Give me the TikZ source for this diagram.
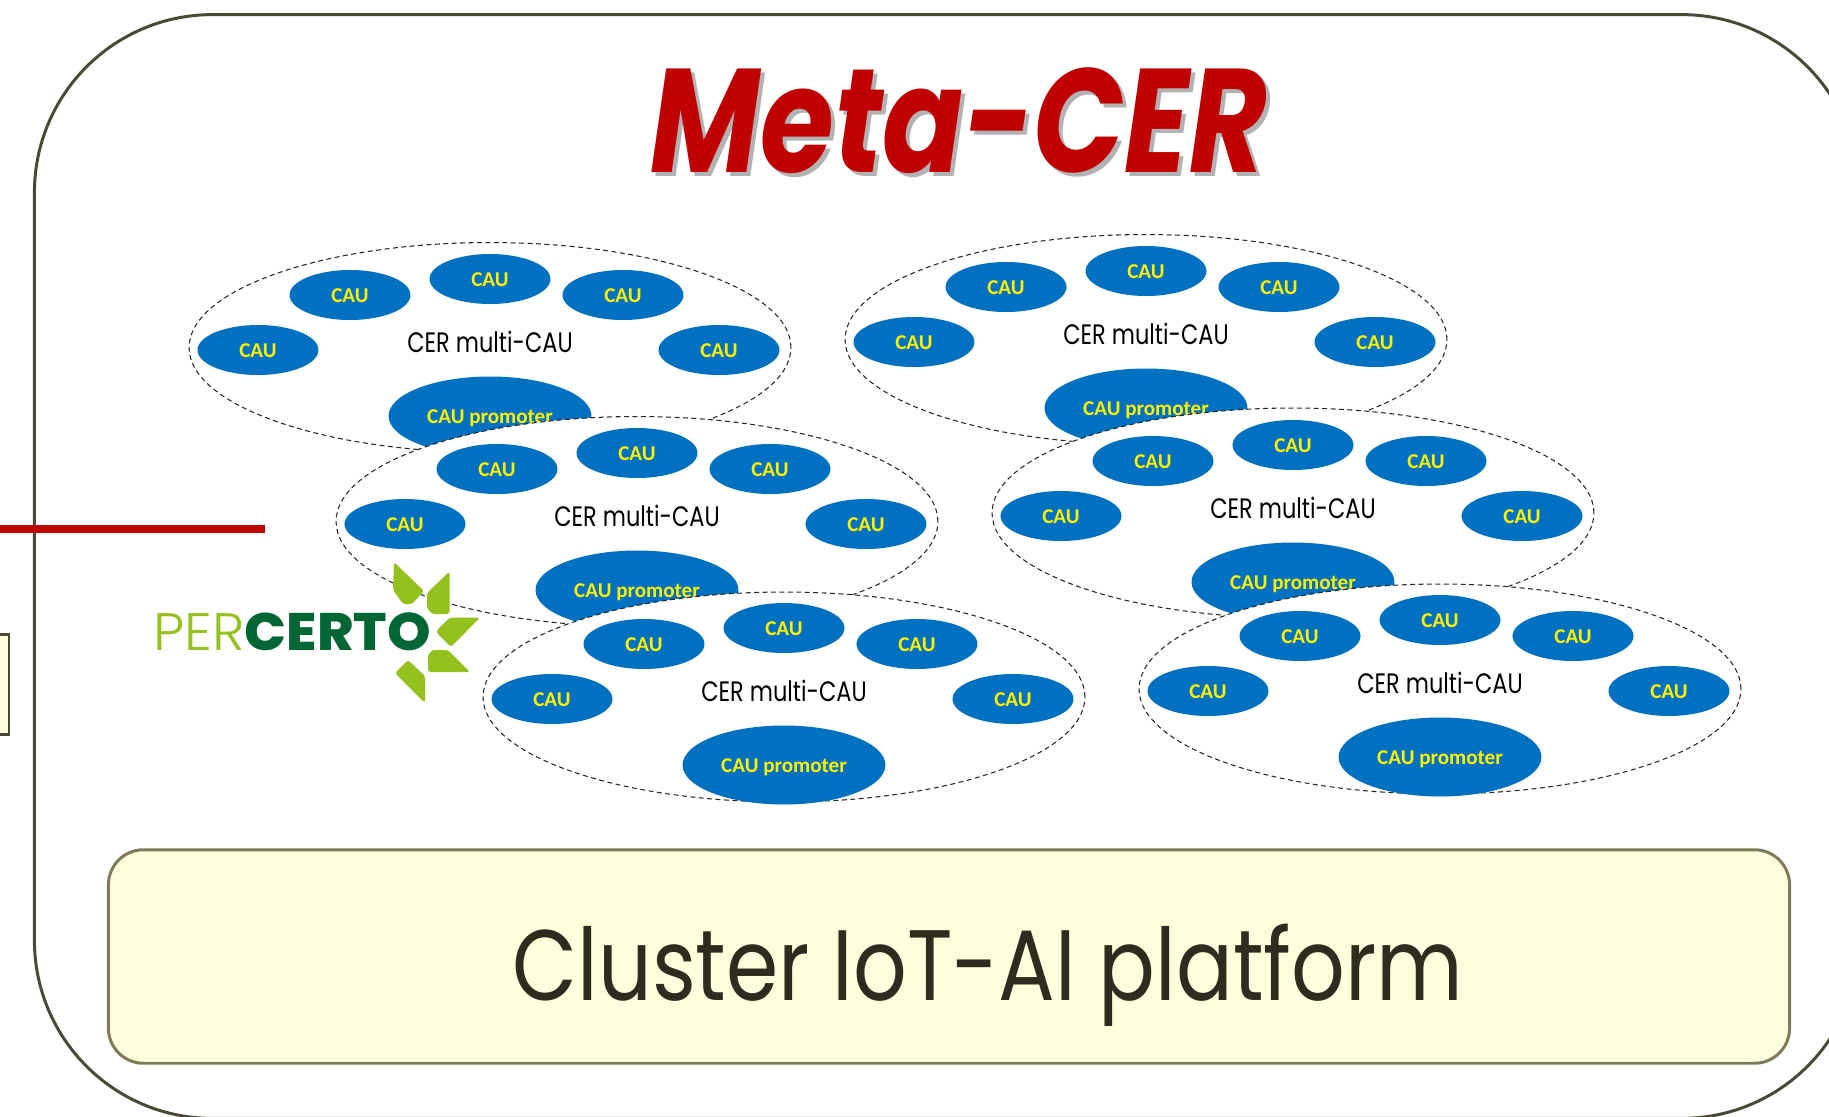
\documentclass[tikz,border=0pt]{standalone}
\usepackage{fontspec}
\usetikzlibrary{shapes.geometric}
\setmainfont{Poppins}
\newfontfamily\caufont{Carlito}
\newfontfamily\perfont{Poppins Light}
\newfontfamily\certofont{Poppins ExtraBold}
\definecolor{framecol}{HTML}{4A4936}
\definecolor{platcol}{HTML}{7F7B5A}
\definecolor{platfill}{HTML}{FFFFDD}
\definecolor{platink}{HTML}{2E2B1F}
\definecolor{caublue}{HTML}{0070C0}
\definecolor{titlered}{HTML}{C00000}
\definecolor{leafgreen}{HTML}{95C11F}
\definecolor{certogreen}{HTML}{006633}
\newcommand{\multilabel}{\scalebox{0.8}[1]{CER multi-CAU}}
\newcommand{\titlelabel}{\scalebox{0.81}[1]{Meta-CER}}
\begin{document}
\begin{tikzpicture}[x=0.02cm,y=-0.02cm,
        cer/.style={ellipse,draw=black!85,fill=white,line width=0.6pt,
          dash pattern=on 2.8pt off 2pt,inner sep=0pt,
          minimum width=12.04cm,minimum height=4.2cm},
        cau/.style={ellipse,fill=caublue,text=yellow,inner sep=0pt,
          minimum width=2.42cm,minimum height=1cm,text height=8.8pt,text depth=0pt,
          font=\caufont\fontsize{12}{14}\selectfont\bfseries},
        promoter/.style={ellipse,fill=caublue,text=yellow,inner sep=0pt,
          minimum width=4.06cm,minimum height=1.58cm,text height=8.8pt,text depth=0pt,
          font=\caufont\fontsize{12}{14}\selectfont\bfseries},
        multi/.style={text=black,inner sep=0pt,
          font=\fontsize{16}{18}\selectfont},
        leaf/.style={fill=leafgreen,rounded corners=1.5pt}]
      \useasboundingbox (0,0) rectangle (1829,1116);
      \clip (0,0) rectangle (1829,1116);
      \node (frame) at (947,566.5) [rectangle,draw=framecol,line width=1.7pt,
        rounded corners=3.56cm,minimum width=36.51cm,minimum height=22.08cm] {};
      \coordinate (redstart) at (-5,529);
      \coordinate (redend) at (265,529);
      \draw[titlered,line width=4.4pt] (redstart) -- (redend);
      \node (sidebox) at (-41,684.5) [rectangle,draw=framecol,fill=platfill,line width=1.5pt,
        minimum width=2cm,minimum height=2cm] {};
      \node (titleshadow) at (963,125) [text=black!30,
        font=\fontsize{84}{90}\selectfont\bfseries\itshape] {\titlelabel};
      \node (title) at (959,121) [text=titlered,
        font=\fontsize{84}{90}\selectfont\bfseries\itshape] {\titlelabel};
      % first group
      \node (g1) at (490,347.5) [cer] {};
      \node (g1a) at (350,295) [cau] {CAU};
      \node (g1b) at (490,279) [cau] {CAU};
      \node (g1c) at (623,295) [cau] {CAU};
      \node (g1d) at (258,350) [cau] {CAU};
      \node (g1e) at (719,350) [cau] {CAU};
      \node (g1l) at (490,342) [multi] {\multilabel};
      \node (g1p) at (490,416) [promoter] {CAU promoter};
      \node (h1) at (1146,339.5) [cer] {};
      \node (h1a) at (1006,287) [cau] {CAU};
      \node (h1b) at (1146,271) [cau] {CAU};
      \node (h1c) at (1279,287) [cau] {CAU};
      \node (h1d) at (914,342) [cau] {CAU};
      \node (h1e) at (1375,342) [cau] {CAU};
      \node (h1l) at (1146,334) [multi] {\multilabel};
      \node (h1p) at (1146,408) [promoter] {CAU promoter};
      % second group
      \node (g2) at (637,521.5) [cer] {};
      \node (g2a) at (497,469) [cau] {CAU};
      \node (g2b) at (637,453) [cau] {CAU};
      \node (g2c) at (770,469) [cau] {CAU};
      \node (g2d) at (405,524) [cau] {CAU};
      \node (g2e) at (866,524) [cau] {CAU};
      \node (g2l) at (637,516) [multi] {\multilabel};
      \node (g2p) at (637,590) [promoter] {CAU promoter};
      \node (h2) at (1293,513) [cer] {};
      \node (h2a) at (1153,461) [cau] {CAU};
      \node (h2b) at (1293,445) [cau] {CAU};
      \node (h2c) at (1426,461) [cau] {CAU};
      \node (h2d) at (1061,516) [cau] {CAU};
      \node (h2e) at (1522,516) [cau] {CAU};
      \node (h2l) at (1293,508) [multi] {\multilabel};
      \node (h2p) at (1293,582) [promoter] {CAU promoter};
      % third group
      \node (g3) at (784,697) [cer] {};
      \node (g3a) at (644,644) [cau] {CAU};
      \node (g3b) at (784,628) [cau] {CAU};
      \node (g3c) at (917,644) [cau] {CAU};
      \node (g3d) at (552,699) [cau] {CAU};
      \node (g3e) at (1013,699) [cau] {CAU};
      \node (g3l) at (784,691) [multi] {\multilabel};
      \node (g3p) at (784,765) [promoter] {CAU promoter};
      \node (h3) at (1440,689) [cer] {};
      \node (h3a) at (1300,636) [cau] {CAU};
      \node (h3b) at (1440,620) [cau] {CAU};
      \node (h3c) at (1573,636) [cau] {CAU};
      \node (h3d) at (1208,691) [cau] {CAU};
      \node (h3e) at (1669,691) [cau] {CAU};
      \node (h3l) at (1440,683) [multi] {\multilabel};
      \node (h3p) at (1440,757) [promoter] {CAU promoter};
      % logo
      \node (percerto) at (292,632) [inner sep=0pt,
        font=\fontsize{30}{34}\selectfont]
        {\scalebox{1.05}[1]{\textcolor{leafgreen}{\perfont PER}\textcolor{certogreen}{\certofont CERTO}}};
      \fill[leaf] (394,562) -- (424,591) -- (412,604) -- (403,604) -- (393,590) -- cycle;
      \fill[leaf] (449.5,571.5) -- (449.5,614) -- (432,614) -- (427,608) -- (427,593) -- cycle;
      \fill[leaf] (480,617.5) -- (451,647) -- (437,633) -- (437,630) -- (450,617.5) -- cycle;
      \fill[leaf] (470,672) -- (428,672) -- (428,655) -- (432,650) -- (448,650) -- cycle;
      \fill[leaf] (425,703) -- (395,673) -- (408,660) -- (425,676) -- cycle;
      % platform
      \node (platform) at (949,956.5) [rectangle,draw=platcol,fill=platfill,line width=1.7pt,
        rounded corners=0.7cm,minimum width=33.63cm,minimum height=4.27cm] {};
      \node (platformlabel) at (988,975) [text=platink,inner sep=0pt,
        font=\fontsize{57}{60}\selectfont] {\scalebox{0.84}[1]{Cluster IoT-AI platform}};
\end{tikzpicture}
\end{document}
